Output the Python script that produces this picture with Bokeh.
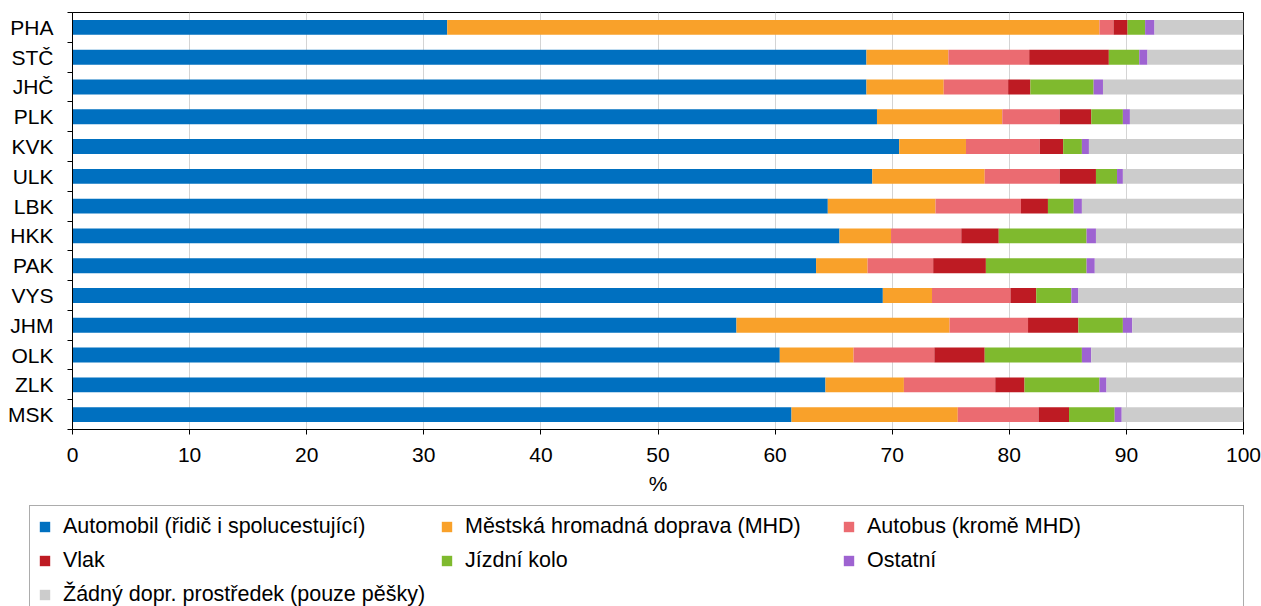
from bokeh.plotting import figure
from bokeh.layouts import column
from bokeh.models import Range1d, FixedTicker, Legend, LegendItem, ColumnDataSource
from bokeh.embed import file_html
from bokeh.resources import INLINE

regions = ["PHA", "STČ", "JHČ", "PLK", "KVK", "ULK", "LBK",
           "HKK", "PAK", "VYS", "JHM", "OLK", "ZLK", "MSK"]

automobil = [32.0, 67.8, 67.8, 68.7, 70.6, 68.3, 64.5, 65.5, 63.5, 69.2, 56.7, 60.4, 64.3, 61.4]
mhd       = [55.7, 7.0, 6.6, 10.7, 5.7, 9.6, 9.2, 4.4, 4.4, 4.2, 18.2, 6.3, 6.7, 14.2]
autobus   = [1.2, 6.9, 5.5, 4.9, 6.3, 6.4, 7.3, 6.0, 5.6, 6.7, 6.7, 6.9, 7.8, 6.9]
vlak      = [1.2, 6.8, 1.9, 2.7, 2.0, 3.1, 2.3, 3.2, 4.5, 2.2, 4.3, 4.3, 2.5, 2.6]
kolo      = [1.5, 2.6, 5.4, 2.7, 1.6, 1.8, 2.2, 7.5, 8.6, 3.0, 3.8, 8.3, 6.4, 3.9]
ostatni   = [0.8, 0.7, 0.8, 0.6, 0.6, 0.5, 0.7, 0.8, 0.7, 0.6, 0.8, 0.8, 0.6, 0.6]
zadny     = [7.6, 8.2, 12.0, 9.7, 13.2, 10.3, 13.8, 12.6, 12.7, 14.1, 9.5, 13.0, 11.7, 10.4]

series_names = ["Automobil (řidič i spolucestující)", "Městská hromadná doprava (MHD)",
                "Autobus (kromě MHD)", "Vlak", "Jízdní kolo", "Ostatní",
                "Žádný dopr. prostředek (pouze pěšky)"]
series_keys = ["automobil", "mhd", "autobus", "vlak", "kolo", "ostatni", "zadny"]
colors = ["#0070C0", "#F9A12A", "#EB6B71", "#BE1B23", "#7FBA2E", "#9E63D1", "#CCCCCC"]
x_ticks = [0, 10, 20, 30, 40, 50, 60, 70, 80, 90, 100]

pos = [i + 0.5 for i in range(len(regions))]
source = ColumnDataSource(dict(y=pos, automobil=automobil, mhd=mhd, autobus=autobus,
                               vlak=vlak, kolo=kolo, ostatni=ostatni, zadny=zadny))

FONT = "Liberation Sans"
FS = "21px"

p = figure(width=1261, height=502, output_backend="svg", toolbar_location=None,
           x_range=Range1d(0, 100), y_range=Range1d(len(regions), 0),
           min_border_left=72, min_border_right=18, min_border_top=12, min_border_bottom=73)
p.frame_align = False
p.background_fill_color = "white"
p.border_fill_color = "white"
p.outline_line_color = "black"
p.outline_line_width = 1

p.hbar_stack(series_keys, y="y", height=0.5, color=colors, line_color=None, source=source)

# axes
p.xaxis.ticker = FixedTicker(ticks=x_ticks)
p.xaxis.axis_label = "%"
p.xaxis.axis_label_text_font = FONT
p.xaxis.axis_label_text_font_size = FS
p.xaxis.axis_label_text_font_style = "normal"
p.xaxis.axis_label_text_color = "black"
p.xaxis.axis_label_standoff = 7
p.xaxis.major_label_text_font = FONT
p.xaxis.major_label_text_font_size = FS
p.xaxis.major_label_text_color = "black"
p.xaxis.major_label_standoff = 13
p.xaxis.major_tick_in = 0
p.xaxis.major_tick_out = 5
p.xaxis.minor_tick_line_color = None
p.xaxis.axis_line_color = "black"
p.xaxis.major_tick_line_color = "black"

p.yaxis.ticker = FixedTicker(ticks=pos, minor_ticks=list(range(len(regions) + 1)))
p.yaxis.major_label_overrides = {y: name for y, name in zip(pos, regions)}
p.yaxis.major_label_text_font = FONT
p.yaxis.major_label_text_font_size = FS
p.yaxis.major_label_text_color = "black"
p.yaxis.major_label_standoff = 14
p.yaxis.major_tick_in = 0
p.yaxis.major_tick_out = 0
p.yaxis.major_tick_line_color = None
p.yaxis.minor_tick_in = 0
p.yaxis.minor_tick_out = 5
p.yaxis.minor_tick_line_color = "black"
p.yaxis.axis_line_color = "black"

p.ygrid.grid_line_color = None
p.xgrid.grid_line_color = "#D4D4D4"
p.xgrid.grid_line_width = 1

# legend panel: a separate figure below the chart; its copy of the bars sits
# entirely behind the opaque legend box and only supplies the swatches
pl = figure(width=1261, height=104, output_backend="svg", toolbar_location=None,
            x_range=Range1d(-3.4, 102.6), y_range=Range1d(len(regions) + 0.5, -0.5),
            x_axis_location=None, y_axis_location=None,
            min_border_left=0, min_border_right=0, min_border_top=0, min_border_bottom=0)
pl.frame_align = False
pl.outline_line_color = None
pl.grid.grid_line_color = None
pl.background_fill_color = "white"
pl.border_fill_color = "white"

swatches = pl.hbar_stack(series_keys, y="y", height=0.5, color=colors, line_color=None,
                         source=source)
items = [LegendItem(label=n, renderers=[r]) for n, r in zip(series_names, swatches)]
legend = Legend(items=items, location=(29, -10), orientation="horizontal", ncols=3,
                label_text_font=FONT, label_text_font_size="21.5px", label_text_color="black",
                glyph_width=13, glyph_height=13, label_standoff=12, label_width=368,
                spacing=9, padding=8, margin=0,
                border_line_color="#595959", border_line_width=1,
                background_fill_color="white", background_fill_alpha=1)
pl.add_layout(legend, "center")

layout = column(p, pl, spacing=0)
open("out.html", "w").write(file_html(layout, INLINE))
